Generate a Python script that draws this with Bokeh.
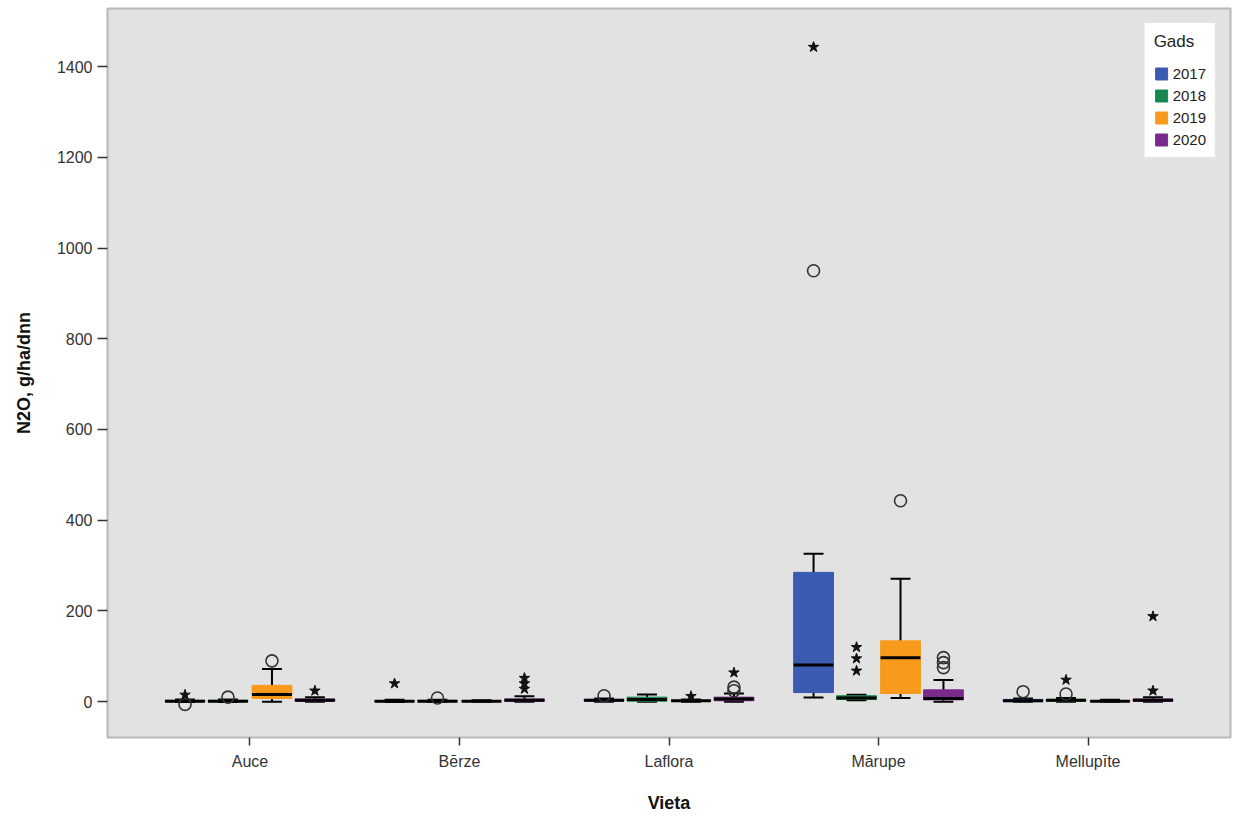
from bokeh.plotting import figure
from bokeh.models import Range1d, FixedTicker, Legend, LegendItem, ColumnDataSource
from bokeh.embed import file_html
from bokeh.resources import INLINE

sites = ["Auce", "Bērze", "Laflora", "Mārupe", "Mellupīte"]
years = ["2017", "2018", "2019", "2020"]
colors = ["#3B5BB0", "#14884E", "#F89B1C", "#7A2A8C"]
y_ticks = [0, 200, 400, 600, 800, 1000, 1200, 1400]

# box statistics per year, in site order
lo_2017 = [-1, -1, 0, 9, 0]
q1_2017 = [0, 0, 1, 20, 0]
med_2017 = [1, 1, 3, 81, 2]
q3_2017 = [3, 2, 5, 285, 5]
hi_2017 = [5, 4, 7, 326, 7]

lo_2018 = [-1, 0, 0, 3, 0]
q1_2018 = [0, 0, 1, 5, 1]
med_2018 = [1, 1, 5, 8, 3]
q3_2018 = [3, 3, 10, 13, 5]
hi_2018 = [5, 4, 16, 15, 8]

lo_2019 = [0, 0, 0, 8, 0]
q1_2019 = [7, 0, 1, 18, 0]
med_2019 = [16, 1, 2, 97, 1]
q3_2019 = [36, 2, 3, 134, 2]
hi_2019 = [72, 3, 5, 271, 4]

lo_2020 = [0, 0, 0, 0, 0]
q1_2020 = [1, 1, 2, 4, 1]
med_2020 = [3, 3, 6, 7, 3]
q3_2020 = [6, 6, 10, 26, 6]
hi_2020 = [10, 12, 18, 48, 10]

# outliers: site, year, value, kind ("o" mild, "*" extreme)
out_site = ["Auce", "Auce", "Bērze", "Laflora", "Mārupe", "Mārupe", "Mellupīte",
            "Auce", "Bērze", "Mārupe", "Mārupe", "Mārupe", "Mellupīte", "Mellupīte",
            "Auce", "Laflora", "Mārupe",
            "Auce", "Bērze", "Bērze", "Bērze", "Laflora", "Laflora", "Laflora",
            "Mārupe", "Mārupe", "Mārupe", "Mellupīte", "Mellupīte"]
out_year = ["2017", "2017", "2017", "2017", "2017", "2017", "2017",
            "2018", "2018", "2018", "2018", "2018", "2018", "2018",
            "2019", "2019", "2019",
            "2020", "2020", "2020", "2020", "2020", "2020", "2020",
            "2020", "2020", "2020", "2020", "2020"]
out_value = [15, -6, 40, 13, 950, 1443, 22,
             10, 8, 68, 95, 120, 17, 48,
             90, 12, 443,
             24, 28, 40, 52, 24, 32, 64,
             75, 86, 97, 24, 188]
out_kind = ["*", "o", "*", "o", "o", "*", "o",
            "o", "o", "*", "*", "*", "o", "*",
            "o", "*", "o",
            "*", "*", "*", "*", "o", "o", "*",
            "o", "o", "o", "*", "*"]

stats = {
    "2017": (lo_2017, q1_2017, med_2017, q3_2017, hi_2017),
    "2018": (lo_2018, q1_2018, med_2018, q3_2018, hi_2018),
    "2019": (lo_2019, q1_2019, med_2019, q3_2019, hi_2019),
    "2020": (lo_2020, q1_2020, med_2020, q3_2020, hi_2020),
}

offsets = [-0.31, -0.105, 0.105, 0.31]
box_w = 0.19
cap_w = 0.095

p = figure(width=1237, height=816, output_backend="svg", toolbar_location=None,
           x_range=Range1d(-0.68, 4.68), y_range=Range1d(-79, 1528),
           min_border_left=107, min_border_right=7, min_border_top=8, min_border_bottom=79,
           background_fill_color="#e2e2e2", border_fill_color="white",
           outline_line_color="#b8b8b8", outline_line_width=2)
p.grid.visible = False

font = "Liberation Sans"
p.xaxis.ticker = FixedTicker(ticks=list(range(len(sites))))
p.xaxis.major_label_overrides = {i: s for i, s in enumerate(sites)}
p.yaxis.ticker = FixedTicker(ticks=y_ticks)
for ax in (p.xaxis[0], p.yaxis[0]):
    ax.axis_line_color = None
    ax.minor_tick_line_color = None
    ax.major_tick_in = 0
    ax.major_tick_line_color = "#333333"
    ax.major_tick_line_width = 1.5
    ax.major_label_text_font = font
    ax.major_label_text_font_size = "16px"
    ax.major_label_text_color = "#333333"
    ax.axis_label_text_font = font
    ax.axis_label_text_font_style = "bold"
    ax.axis_label_text_font_size = "18px"
    ax.axis_label_text_color = "#111111"
p.xaxis.major_tick_out = 8
p.yaxis.major_tick_out = 10
p.xaxis.major_label_standoff = 7
p.yaxis.major_label_standoff = 5
p.xaxis.axis_label = "Vieta"
p.yaxis.axis_label = "N2O, g/ha/dnn"
p.xaxis.axis_label_standoff = 20
p.yaxis.axis_label_standoff = 20

site_idx = {s: i for i, s in enumerate(sites)}
legend_items = []
for j, yr in enumerate(years):
    lo, q1, med, q3, hi = stats[yr]
    x = [i + offsets[j] for i in range(len(sites))]
    src = ColumnDataSource(dict(
        x=x, lo=lo, q1=q1, med=med, q3=q3, hi=hi,
        x0=[v - box_w / 2 for v in x], x1=[v + box_w / 2 for v in x],
        c0=[v - cap_w / 2 for v in x], c1=[v + cap_w / 2 for v in x],
    ))
    p.segment(x0="x", y0="lo", x1="x", y1="hi", source=src, line_color="black", line_width=2)
    p.segment(x0="c0", y0="lo", x1="c1", y1="lo", source=src, line_color="black", line_width=2)
    p.segment(x0="c0", y0="hi", x1="c1", y1="hi", source=src, line_color="black", line_width=2)
    r = p.vbar(x="x", width=box_w, bottom="q1", top="q3", source=src,
               fill_color=colors[j], line_color=colors[j], line_width=1)
    p.segment(x0="x0", y0="med", x1="x1", y1="med", source=src, line_color="black", line_width=3)
    legend_items.append(LegendItem(label=yr, renderers=[r]))

ox = [site_idx[s] + offsets[years.index(y)] for s, y in zip(out_site, out_year)]
circ = ColumnDataSource(dict(
    x=[v for v, k in zip(ox, out_kind) if k == "o"],
    y=[v for v, k in zip(out_value, out_kind) if k == "o"]))
star = ColumnDataSource(dict(
    x=[v for v, k in zip(ox, out_kind) if k == "*"],
    y=[v for v, k in zip(out_value, out_kind) if k == "*"]))
p.scatter(x="x", y="y", source=circ, marker="circle", size=12,
          fill_color=None, line_color="#333333", line_width=1.6)
p.scatter(x="x", y="y", source=star, marker="star", size=11,
          fill_color="#111111", line_color="#111111")

legend = Legend(items=legend_items, title="Gads", location="top_right",
                title_text_font=font, title_text_font_size="17px", title_text_color="#222222",
                title_text_font_style="normal",
                label_text_font=font, label_text_font_size="15px", label_text_color="#222222",
                glyph_width=15, glyph_height=15, label_standoff=4, spacing=5,
                padding=9, margin=14, border_line_color="#cccccc",
                background_fill_color="white", background_fill_alpha=1.0,
                title_standoff=13)
p.add_layout(legend)

open("out.html", "w").write(file_html(p, INLINE))
